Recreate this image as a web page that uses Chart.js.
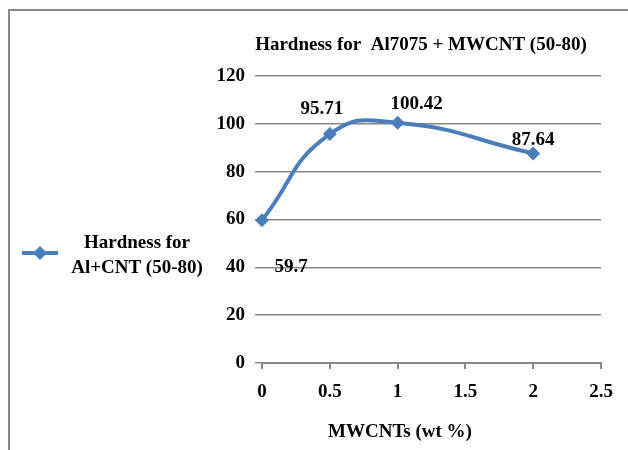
<!DOCTYPE html>
<html>
<head>
<meta charset="utf-8">
<script src="https://cdn.jsdelivr.net/npm/chart.js@4.4.1/dist/chart.umd.min.js"></script>
<style>
    html, body { margin: 0; padding: 0; background: #fff; }
    #wrap { width: 628px; height: 450px; position: relative; }
</style>
</head>
<body>
<div id="wrap"><canvas id="hardnessChart" width="628" height="450"></canvas></div>
<script>
// Data
const cntContent = [0, 0.5, 1, 2];          // MWCNTs (wt%)
const hardness = [59.7, 95.71, 100.42, 87.64];
const hardnessLabels = ['59.7', '95.71', '100.42', '87.64'];
const xTicks = [0, 0.5, 1, 1.5, 2, 2.5];
const yTicks = [0, 20, 40, 60, 80, 100, 120];

const chartTitle = 'Hardness for  Al7075 + MWCNT (50-80)';
const xAxisTitle = 'MWCNTs (wt %)';
const legendLines = ['Hardness for', 'Al+CNT (50-80)'];

// label placement relative to each point (px)
const labelOffsets = [[29, 47], [-8, -25], [19, -19], [0, -13]];

const BLUE = '#4A7EBB';
const GREY = '#888888';
const FONT = 'bold 19px "Liberation Serif", "Times New Roman", serif';

const decorPlugin = {
    id: 'decor',
    beforeDraw(chart) {
        const ctx = chart.ctx;
        ctx.save();
        ctx.fillStyle = '#fff';
        ctx.fillRect(0, 0, chart.width, chart.height);
        ctx.restore();
    },
    afterDraw(chart) {
        const ctx = chart.ctx;
        ctx.save();

        // outer frame (only left + top edges are visible)
        ctx.strokeStyle = GREY;
        ctx.lineWidth = 2;
        ctx.beginPath();
        ctx.moveTo(9, chart.height);
        ctx.lineTo(9, 10);
        ctx.lineTo(chart.width, 10);
        ctx.stroke();

        ctx.fillStyle = '#000';
        ctx.font = FONT;
        ctx.textBaseline = 'middle';

        // title and x axis title
        ctx.textAlign = 'center';
        ctx.fillText(chartTitle, 421, 45);
        ctx.fillText(xAxisTitle, 400, 432);

        // legend
        ctx.fillText(legendLines[0], 137, 243);
        ctx.fillText(legendLines[1], 137, 268);
        ctx.strokeStyle = BLUE;
        ctx.lineWidth = 4;
        ctx.beginPath();
        ctx.moveTo(22, 253);
        ctx.lineTo(58, 253);
        ctx.stroke();
        ctx.fillStyle = BLUE;
        ctx.beginPath();
        ctx.moveTo(40, 246);
        ctx.lineTo(47, 253);
        ctx.lineTo(40, 260);
        ctx.lineTo(33, 253);
        ctx.closePath();
        ctx.fill();

        // data labels
        ctx.fillStyle = '#000';
        const pts = chart.getDatasetMeta(0).data;
        pts.forEach((p, i) => {
            const off = labelOffsets[i];
            ctx.fillText(hardnessLabels[i], p.x + off[0], p.y + off[1]);
        });

        ctx.restore();
    }
};

const ctx = document.getElementById('hardnessChart').getContext('2d');
const chart = new Chart(ctx, {
    type: 'line',
    data: {
        datasets: [{
            label: legendLines.join(' '),
            data: cntContent.map((x, i) => ({ x: x, y: hardness[i] })),
            borderColor: BLUE,
            backgroundColor: BLUE,
            borderWidth: 4,
            tension: 0.5,
            clip: false,
            pointStyle: 'rectRot',
            pointRadius: 7,
            pointBorderWidth: 0,
            pointBackgroundColor: BLUE
        }]
    },
    options: {
        responsive: false,
        animation: false,
        devicePixelRatio: 1,
        layout: { padding: { left: 0, top: 76, right: 27, bottom: 0 } },
        plugins: {
            legend: { display: false },
            title: { display: false },
            tooltip: { enabled: false }
        },
        scales: {
            x: {
                type: 'linear',
                min: 0,
                max: 2.5,
                afterFit: s => { s.height = 87; },
                afterBuildTicks: s => { s.ticks = xTicks.map(v => ({ value: v })); },
                ticks: {
                    color: '#000',
                    font: { family: '"Liberation Serif"', size: 19, weight: 'bold' },
                    padding: 12,
                    maxRotation: 0,
                    callback: v => String(v)
                },
                grid: { drawOnChartArea: false, drawTicks: true, tickLength: 6, color: GREY, lineWidth: 2 },
                border: { display: true, color: GREY, width: 2 }
            },
            y: {
                min: 0,
                max: 120,
                afterFit: s => { s.width = 262; },
                afterBuildTicks: s => { s.ticks = yTicks.map(v => ({ value: v })); },
                ticks: {
                    color: '#000',
                    font: { family: '"Liberation Serif"', size: 19, weight: 'bold' },
                    padding: 10,
                    callback: v => String(v)
                },
                grid: { drawTicks: true, tickLength: 7, color: GREY, lineWidth: 1.5 },
                border: { display: false }
            }
        }
    },
    plugins: [decorPlugin]
});
</script>
</body>
</html>
